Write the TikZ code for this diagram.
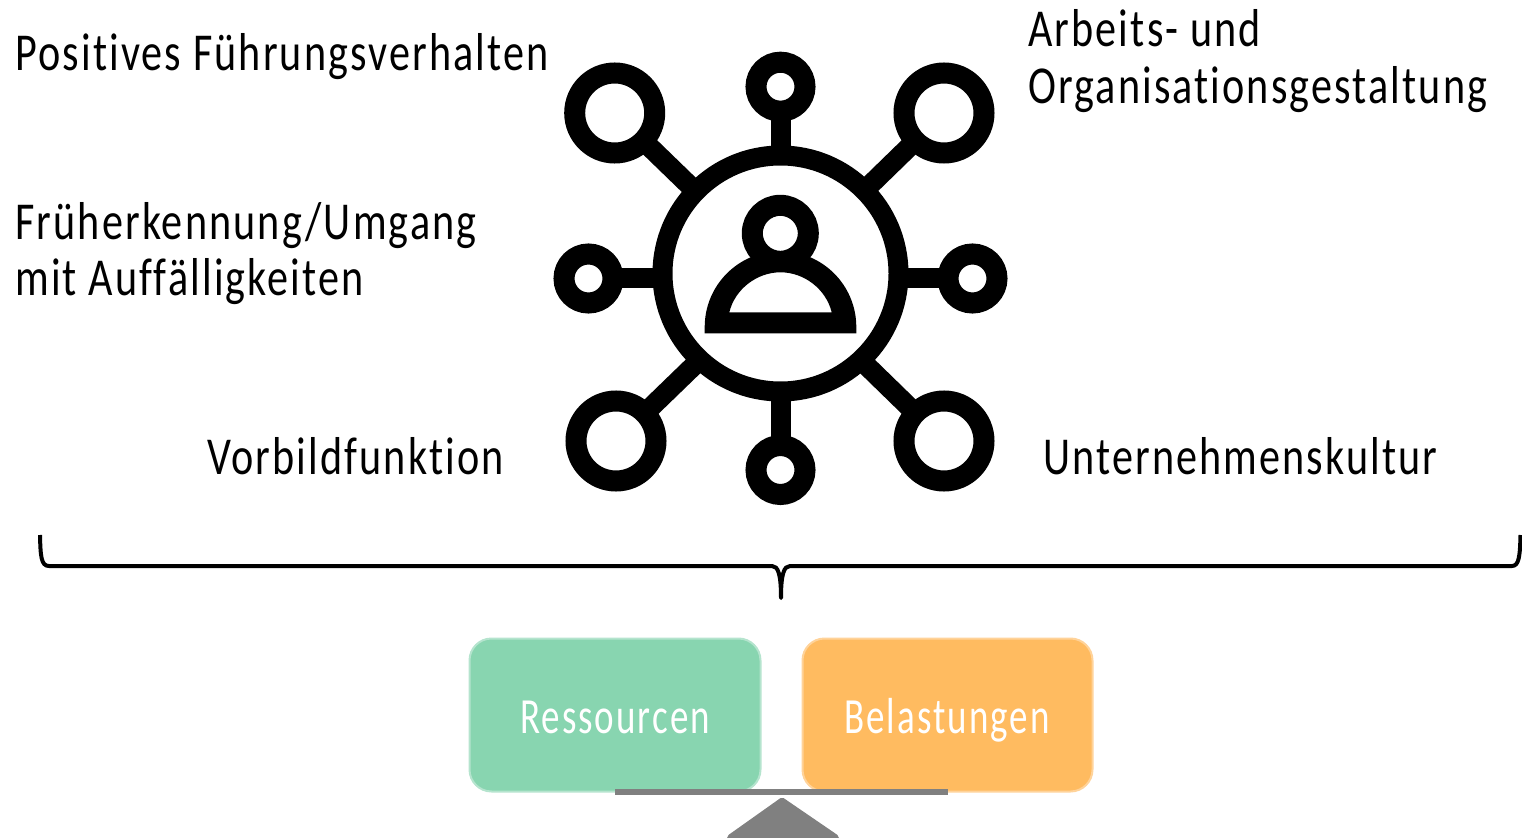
\documentclass[tikz,border=0pt]{standalone}
\usepackage{fontspec}
\setmainfont{Carlito}[FakeStretch=0.79,LetterSpace=4,Ligatures={NoCommon,NoRequired,NoContextual,NoHistoric,NoRare,NoDiscretionary}]
\newlength{\pxu}
\setlength{\pxu}{0.75pt}
\newfontfamily\boxfont{Carlito}[FakeStretch=0.73,LetterSpace=4,Ligatures={NoCommon,NoRequired,NoContextual,NoHistoric,NoRare,NoDiscretionary}]
\definecolor{resgreen}{HTML}{88D5B0}
\definecolor{resgreenb}{HTML}{B5E4CE}
\definecolor{loadorange}{HTML}{FFBB60}
\definecolor{loadorangeb}{HTML}{FFD39A}
\definecolor{beamgray}{HTML}{808080}
\tikzset{
  bigsat/.style={circle,draw=black,fill=white,line width=21\pxu,minimum size=80\pxu,inner sep=0pt,outer sep=0pt},
  smallsat/.style={circle,draw=black,fill=white,line width=21\pxu,minimum size=49\pxu,inner sep=0pt,outer sep=0pt},
  hubring/.style={circle,draw=black,fill=white,line width=20\pxu,minimum size=236\pxu,inner sep=0pt,outer sep=0pt},
  headring/.style={circle,draw=black,fill=white,line width=21\pxu,minimum size=56\pxu,inner sep=0pt,outer sep=0pt},
  spoke/.style={line width=20\pxu,black},
  label/.style={anchor=base west,inner sep=0pt,font=\fontsize{40}{40}\selectfont,text=black},
  boxlabel/.style={anchor=base,inner sep=0pt,font=\boxfont\fontsize{38}{38}\selectfont,text=white},
  roundbox/.style={rounded corners=22\pxu,line width=1.5pt}
}
\begin{document}
\begin{tikzpicture}[x=1\pxu,y=-1\pxu]
\useasboundingbox (0,0) rectangle (1522,838);
% hub and satellites
\node[hubring] (hub) at (780.5,273.5) {};
\node[bigsat] (tl) at (614.7,113) {};
\node[bigsat] (tr) at (944,113) {};
\node[bigsat] (bl) at (616,441) {};
\node[bigsat] (br) at (944,441) {};
\node[smallsat] (top) at (780.5,86.7) {};
\node[smallsat] (bot) at (780.5,470) {};
\node[smallsat] (lft) at (588.5,278.5) {};
\node[smallsat] (rgt) at (972.5,278.5) {};
\coordinate (htl) at (690,186);
\coordinate (htr) at (870,185);
\coordinate (hbl) at (694,365.5);
\coordinate (hbr) at (867,366);
\begin{scope}[spoke]
\draw (htl) -- (tl);
\draw (htr) -- (tr);
\draw (hbl) -- (bl);
\draw (hbr) -- (br);
\draw (hub.north) -- (top);
\draw (hub.south) -- (bot);
\draw (lft.east) -- (lft -| hub.west);
\draw (rgt.west) -- (rgt -| hub.east);
\end{scope}
% person
\fill[black,even odd rule] (704.7,333.3) -- (704.7,327) arc[start angle=180,end angle=0,radius=75.8\pxu] -- (856.3,333.3) -- cycle
  (729.3,312.3) .. controls (735,289) and (757,272.3) .. (780.5,272.3) .. controls (804,272.3) and (826,289) .. (831.7,312.3) -- cycle;
\node[headring] (head) at (780.3,233.3) {};
% labels
\node[label] (t1) at (15,71) {Positives Führungsverhalten};
\node[label] (t2) at (1028,47) {Arbeits- und};
\node[label] (t3) at (1028,104) {Organisationsgestaltung};
\node[label] (t4) at (15,240) {Früherkennung/Umgang};
\node[label] (t5) at (15,296) {mit Auffälligkeiten};
\node[label] (t6) at (207,474) {Vorbildfunktion};
\node[label] (t7) at (1043,474) {Unternehmenskultur};
% brace
\draw[line width=4\pxu,black,line join=round]
  (40,535) .. controls (40.5,556) and (41,566) .. (49,566) -- (772,566)
  .. controls (778,566) and (781,574) .. (781,598)
  .. controls (781,574) and (784,566) .. (790,566) -- (1512,566)
  .. controls (1519,566) and (1520,556) .. (1520.5,535);
% boxes
\draw[roundbox,draw=resgreenb,fill=resgreen] (469.5,638.5) rectangle (760.5,791.5);
\draw[roundbox,draw=loadorangeb,fill=loadorange] (802.5,638.5) rectangle (1092.5,791.5);
\node[boxlabel] (res) at (615,733) {Ressourcen};
\node[boxlabel] (bel) at (947,733) {Belastungen};
% balance
\fill[beamgray] (615,788.5) rectangle (948,795);
\fill[beamgray,rounded corners=1.5pt] (782,797) -- (839,836) -- (839,845) -- (727,845) -- (727,836) -- cycle;
\end{tikzpicture}
\end{document}
